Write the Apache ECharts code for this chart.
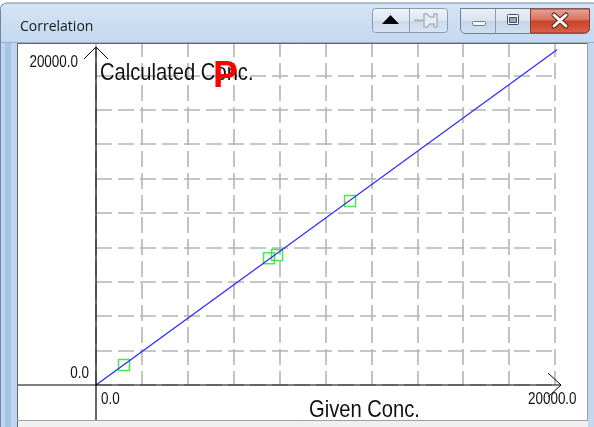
<!DOCTYPE html>
<html>
<head>
<meta charset="utf-8">
<script src="https://cdn.jsdelivr.net/npm/echarts@6/dist/echarts.min.js"></script>
<style>
html,body{margin:0;padding:0;background:#ffffff;}
#c{width:594px;height:427px;}
</style>
</head>
<body>
<div id="c"></div>
<script>
// ---- data ----
const windowTitle = 'Correlation';
const xAxisName = 'Given Conc.';
const yAxisName = 'Calculated Conc.';
const xTickValues = [0, 20000];
const xTickLabels = ['0.0', '20000.0'];
const yTickValues = [0, 20000];
const yTickLabels = ['0.0', '20000.0'];
const pointsX = [1220, 7540, 7890, 11070];
const pointsY = [1160, 7370, 7560, 10700];
const regLineX = [0, 20130];
const regLineY = [0, 19530];

const chart = echarts.init(document.getElementById('c'), null, {renderer: 'canvas'});
const FONT = 'Liberation Sans, Arial, sans-serif';

const grid = {left: 96, right: 39, top: 41, bottom: 42};
const splitStyle = {color: '#b4b4b4', width: 1.6, type: [16, 6]};

chart.setOption({
  backgroundColor: '#ffffff',
  animation: false,
  grid: grid,
  xAxis: {
    type: 'value', min: 0, max: 20000, interval: 2000,
    axisLine: {show: false}, axisTick: {show: false}, axisLabel: {show: false},
    splitLine: {show: true, lineStyle: splitStyle}
  },
  yAxis: {
    type: 'value', min: 0, max: 20000, interval: 2000,
    axisLine: {show: false}, axisTick: {show: false}, axisLabel: {show: false},
    splitLine: {show: true, lineStyle: splitStyle}
  },
  series: [
    {
      type: 'scatter',
      data: pointsX.map((x, i) => [x, pointsY[i]]),
      symbol: 'rect', symbolSize: 11,
      itemStyle: {color: 'rgba(0,0,0,0)', borderColor: '#22e022', borderWidth: 1.5},
      z: 3
    },
    {
      type: 'line',
      data: regLineX.map((x, i) => [x, regLineY[i]]),
      showSymbol: false, symbol: 'none', clip: false,
      lineStyle: {color: '#2a2aff', width: 1.2},
      z: 4
    }
  ]
});

const o = chart.convertToPixel({gridIndex: 0}, [0, 0]);
const ox = o[0], oy = o[1];

const g = [];
// axes (cross) and chevron arrows
g.push({type: 'line', shape: {x1: 17, y1: oy, x2: 561, y2: oy}, style: {stroke: '#000', lineWidth: 1.2}, z: 50});
g.push({type: 'line', shape: {x1: ox, y1: 420, x2: ox, y2: 47}, style: {stroke: '#000', lineWidth: 1.2}, z: 50});
g.push({type: 'polyline', shape: {points: [[548, oy - 12], [561, oy], [548, oy + 12]]}, style: {stroke: '#000', lineWidth: 1, fill: null}, z: 50});
g.push({type: 'polyline', shape: {points: [[ox - 12, 59], [ox, 47], [ox + 12, 59]]}, style: {stroke: '#000', lineWidth: 1, fill: null}, z: 50});

// tick labels
const xl0 = chart.convertToPixel({gridIndex: 0}, [xTickValues[0], 0]);
const xl1 = chart.convertToPixel({gridIndex: 0}, [xTickValues[1], 0]);
const yl0 = chart.convertToPixel({gridIndex: 0}, [0, yTickValues[0]]);
const yl1 = chart.convertToPixel({gridIndex: 0}, [0, yTickValues[1]]);
function txt(text, x, y, align, size) {
  return {type: 'text', x: x, y: y, scaleX: 0.84,
    style: {text: text, font: size + 'px ' + FONT, fill: '#111', textAlign: align, textVerticalAlign: 'middle'}, z: 60};
}
g.push(txt(xTickLabels[0], xl0[0] + 5, xl0[1] + 15, 'left', 16));
g.push(txt(xTickLabels[1], xl1[0] - 27, xl1[1] + 15, 'left', 16));
g.push(txt(yTickLabels[0], yl0[0] - 7, yl0[1] - 11, 'right', 16));
g.push(txt(yTickLabels[1], yl1[0] - 18, yl1[1] + 22, 'right', 16));
// axis names
g.push(txt(yAxisName, ox + 4, 73, 'left', 24));
g.push(txt(xAxisName, 309, 410, 'left', 24));
// red P marker
g.push({type: 'text', x: 213, y: 77, style: {text: 'P', font: 'bold 37px ' + FONT, fill: '#ff0000', textAlign: 'left', textVerticalAlign: 'middle'}, z: 65});

// ---- window chrome ----
const Z = 100;
g.push({type: 'rect', shape: {x: 0, y: 3, width: 600, height: 40, r: [7, 7, 0, 0]},
  style: {fill: new echarts.graphic.LinearGradient(0, 0, 0, 1, [{offset: 0, color: '#d5e4f5'}, {offset: 1, color: '#c3d8ef'}]), stroke: '#6f86a6', lineWidth: 1}, z: Z});
g.push({type: 'rect', shape: {x: 0, y: 43, width: 17, height: 384}, style: {fill: '#c0d6ee'}, z: Z});
g.push({type: 'rect', shape: {x: 5, y: 43, width: 6, height: 384}, style: {fill: '#a7c3e6'}, z: Z});
g.push({type: 'line', shape: {x1: 0.5, y1: 10, x2: 0.5, y2: 427}, style: {stroke: '#6f86a6', lineWidth: 1}, z: Z});
g.push({type: 'rect', shape: {x: 588, y: 43, width: 6, height: 384}, style: {fill: '#c3d8ef'}, z: Z});
g.push({type: 'rect', shape: {x: 17, y: 420, width: 571, height: 7}, style: {fill: '#f0f0f0'}, z: Z});
g.push({type: 'line', shape: {x1: 17, y1: 43.5, x2: 588, y2: 43.5}, style: {stroke: '#646464', lineWidth: 1}, z: Z + 1});
g.push({type: 'line', shape: {x1: 17.5, y1: 43, x2: 17.5, y2: 427}, style: {stroke: '#646464', lineWidth: 1}, z: Z + 1});
g.push({type: 'line', shape: {x1: 587.5, y1: 43, x2: 587.5, y2: 420}, style: {stroke: '#a0a0a0', lineWidth: 1}, z: Z + 1});
g.push({type: 'line', shape: {x1: 17, y1: 420.5, x2: 588, y2: 420.5}, style: {stroke: '#a0a0a0', lineWidth: 1}, z: Z + 1});
g.push({type: 'text', x: 20, y: 27, style: {text: windowTitle, font: '14px "Open Sans", ' + FONT, fill: '#1a1a1a', textVerticalAlign: 'middle'}, z: Z + 2});
const btnGrad = new echarts.graphic.LinearGradient(0, 0, 0, 1, [{offset: 0, color: '#eef3fa'}, {offset: 0.5, color: '#dde7f3'}, {offset: 0.51, color: '#cbd9ea'}, {offset: 1, color: '#d8e4f2'}]);
g.push({type: 'rect', shape: {x: 372.5, y: 8.5, width: 75, height: 24, r: 3}, style: {fill: btnGrad, stroke: '#8a9bb4', lineWidth: 1}, z: Z + 2});
g.push({type: 'line', shape: {x1: 409.5, y1: 9, x2: 409.5, y2: 32}, style: {stroke: '#8a9bb4', lineWidth: 1}, z: Z + 3});
g.push({type: 'polygon', shape: {points: [[382, 24], [399, 24], [390.5, 15]]}, style: {fill: '#000'}, z: Z + 3});
g.push({type: 'line', shape: {x1: 414, y1: 20.5, x2: 424, y2: 20.5}, style: {stroke: '#a9b4c2', lineWidth: 2}, z: Z + 3});
g.push({type: 'polygon', shape: {points: [[424, 14], [427, 14], [430, 17], [434, 17], [434, 14], [437, 14], [437, 27], [434, 27], [434, 24], [430, 24], [427, 27], [424, 27]]}, style: {fill: '#e8ecf1', stroke: '#a9b4c2', lineWidth: 1.5}, z: Z + 3});
const g2Grad = new echarts.graphic.LinearGradient(0, 0, 0, 1, [{offset: 0, color: '#e9f0f8'}, {offset: 0.5, color: '#d9e4f1'}, {offset: 0.51, color: '#c4d4e8'}, {offset: 1, color: '#d3e0f0'}]);
g.push({type: 'rect', shape: {x: 460.5, y: 8.5, width: 129, height: 25, r: [0, 0, 5, 5]}, style: {fill: g2Grad, stroke: '#6f7f98', lineWidth: 1}, z: Z + 2});
const closeGrad = new echarts.graphic.LinearGradient(0, 0, 0, 1, [{offset: 0, color: '#e9a797'}, {offset: 0.45, color: '#d7745f'}, {offset: 0.5, color: '#c7432a'}, {offset: 1, color: '#d9644a'}]);
g.push({type: 'rect', shape: {x: 530.5, y: 9, width: 59, height: 24, r: [0, 0, 5, 0]}, style: {fill: closeGrad, stroke: '#8a3a2c', lineWidth: 1}, z: Z + 3});
g.push({type: 'line', shape: {x1: 495.5, y1: 9, x2: 495.5, y2: 33}, style: {stroke: '#8a9bb4', lineWidth: 1}, z: Z + 3});
g.push({type: 'rect', shape: {x: 472.5, y: 21.5, width: 13, height: 4, r: 1}, style: {fill: '#f4f7fb', stroke: '#6b7d96', lineWidth: 1}, z: Z + 4});
g.push({type: 'rect', shape: {x: 507.5, y: 14.5, width: 11, height: 10, r: 1}, style: {fill: '#f4f7fb', stroke: '#3e4f66', lineWidth: 1}, z: Z + 4});
g.push({type: 'rect', shape: {x: 509.5, y: 17.5, width: 7, height: 5}, style: {fill: '#9aaac0', stroke: '#3e4f66', lineWidth: 1}, z: Z + 5});
g.push({type: 'polyline', shape: {points: [[554, 15], [566, 26]]}, style: {stroke: '#5a1e14', lineWidth: 5, lineCap: 'round'}, z: Z + 4});
g.push({type: 'polyline', shape: {points: [[566, 15], [554, 26]]}, style: {stroke: '#5a1e14', lineWidth: 5, lineCap: 'round'}, z: Z + 4});
g.push({type: 'polyline', shape: {points: [[554, 15], [566, 26]]}, style: {stroke: '#ffffff', lineWidth: 3, lineCap: 'round'}, z: Z + 5});
g.push({type: 'polyline', shape: {points: [[566, 15], [554, 26]]}, style: {stroke: '#ffffff', lineWidth: 3, lineCap: 'round'}, z: Z + 5});

chart.setOption({graphic: g});
</script>
</body>
</html>
